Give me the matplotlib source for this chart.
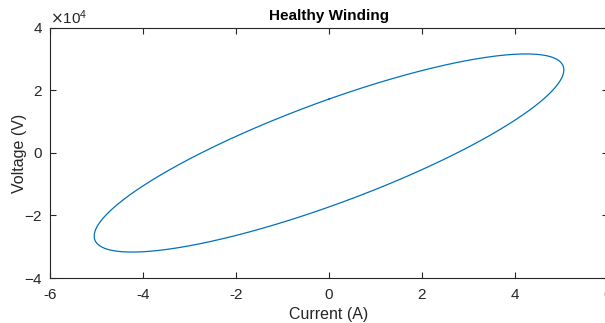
import numpy as np
import matplotlib.pyplot as plt

# values (sinusoidal current/voltage, Lissajous loop)
current_peak = 5.05        # A
voltage_peak = 3.17e4      # V
phase_deg = 33.0           # voltage leads current
x_ticks = [-6, -4, -2, 0, 2, 4, 6]
y_ticks = [-4e4, -2e4, 0, 2e4, 4e4]

plt.rcParams['font.family'] = ['Liberation Sans', 'DejaVu Sans']
plt.rcParams['axes.unicode_minus'] = False
txt = '#262626'

wt = np.linspace(0, 2 * np.pi, 721)
current = current_peak * np.sin(wt)
voltage = voltage_peak * np.sin(wt + np.deg2rad(phase_deg))

fig = plt.figure(figsize=(6.05, 3.23), dpi=100)
ax = fig.add_axes([50 / 605, 1 - 278 / 323, 558 / 605, 250 / 323])
ax.plot(current, voltage, color='#0072BD', linewidth=0.9)

ax.set_xlim(-6, 6)
ax.set_ylim(-4e4, 4e4)
ax.set_xticks(x_ticks)
ax.set_yticks(y_ticks)
ax.ticklabel_format(axis='y', style='sci', scilimits=(4, 4), useMathText=True)
ax.yaxis.get_offset_text().set_fontsize(11)
ax.yaxis.get_offset_text().set_color(txt)

ax.tick_params(direction='in', top=True, right=True, length=4, width=0.8,
               labelsize=11, colors=txt)
ax.tick_params(axis='x', pad=7)
ax.tick_params(axis='y', pad=5)
for s in ax.spines.values():
    s.set_color(txt)
    s.set_linewidth(0.8)

ax.set_title('Healthy Winding', fontsize=11, fontweight='bold', color='black', pad=6)
ax.set_xlabel('Current (A)', fontsize=11.5, color=txt, labelpad=4)
ax.set_ylabel('Voltage (V)', fontsize=11.5, color=txt, labelpad=-2)

fig.savefig('out.png', dpi=100)
